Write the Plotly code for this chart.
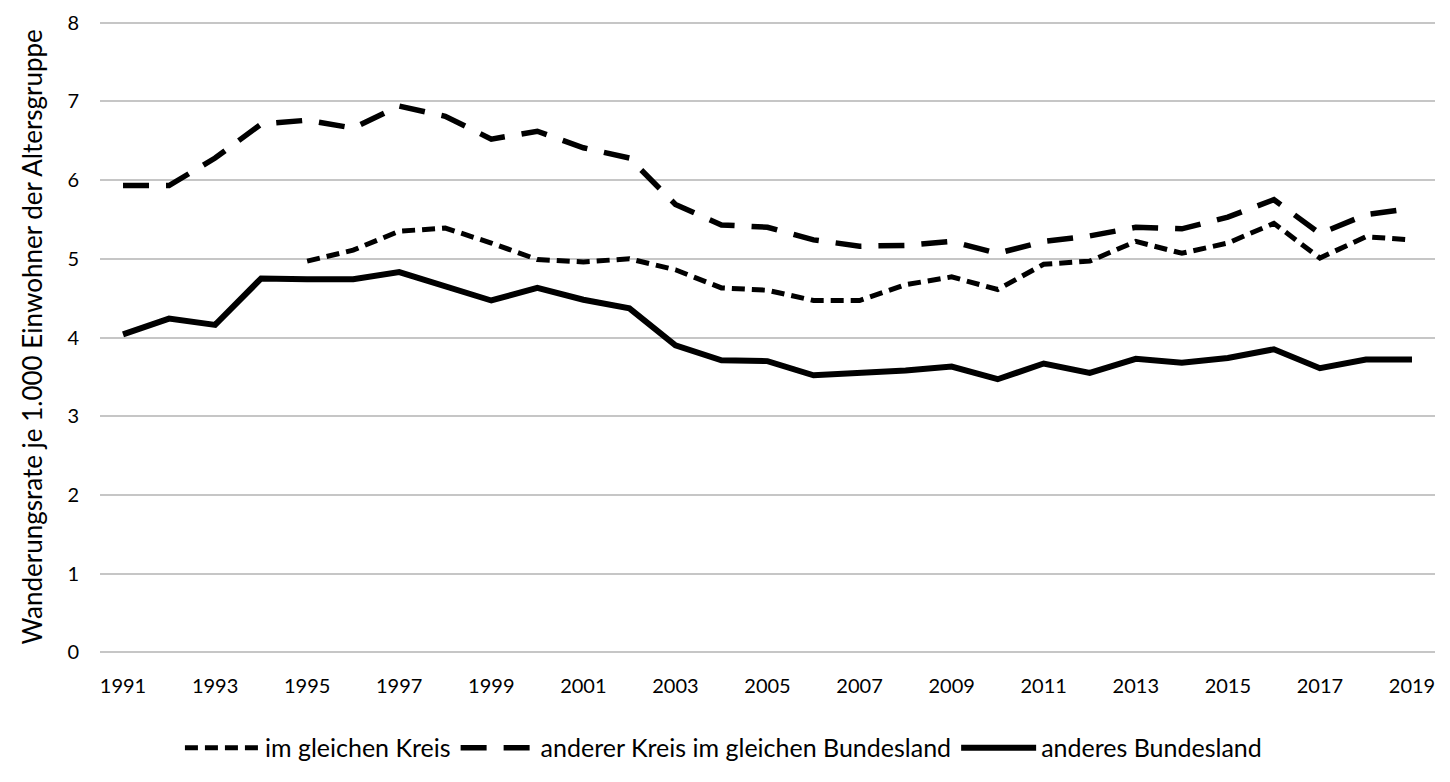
import plotly.graph_objects as go

years = list(range(1991, 2020))

# im gleichen Kreis (starts 1995)
gleicher_kreis = [None, None, None, None,
                  4.97, 5.11, 5.35, 5.39, 5.20, 4.99, 4.96, 5.00, 4.86, 4.63, 4.60,
                  4.47, 4.47, 4.67, 4.77, 4.61, 4.93, 4.97, 5.22, 5.07, 5.20, 5.45,
                  5.01, 5.28, 5.24]

# anderer Kreis im gleichen Bundesland
anderer_kreis = [5.93, 5.93, 6.28, 6.71, 6.76, 6.66, 6.94, 6.81, 6.52, 6.62,
                 6.41, 6.28, 5.69, 5.43, 5.40, 5.24, 5.16, 5.17, 5.22, 5.07,
                 5.22, 5.29, 5.40, 5.38, 5.53, 5.75, 5.32, 5.56, 5.64]

# anderes Bundesland
anderes_land = [4.04, 4.24, 4.16, 4.75, 4.74, 4.74, 4.83, 4.64, 4.47, 4.63,
                4.48, 4.37, 3.90, 3.71, 3.70, 3.52, 3.55, 3.58, 3.63, 3.47,
                3.67, 3.55, 3.73, 3.68, 3.74, 3.85, 3.61, 3.72, 3.72]

names = ["im gleichen Kreis", "anderer Kreis im gleichen Bundesland", "anderes Bundesland"]
y_title = "Wanderungsrate je 1.000 Einwohner der Altersgruppe"
x_ticks = list(range(1991, 2020, 2))
y_ticks = list(range(0, 9))

FONT = "Lato"

fig = go.Figure()
fig.add_trace(go.Scatter(x=years, y=gleicher_kreis, mode="lines", name=names[0],
                         line=dict(color="black", width=5, dash="13px,7px")))
fig.add_trace(go.Scatter(x=years, y=anderer_kreis, mode="lines", name=names[1],
                         line=dict(color="black", width=5.5, dash="26px,17px")))
fig.add_trace(go.Scatter(x=years, y=anderes_land, mode="lines", name=names[2],
                         line=dict(color="black", width=6)))

fig.update_layout(
    width=1450, height=782,
    paper_bgcolor="white", plot_bgcolor="white",
    margin=dict(l=92, r=23, t=13, b=136, autoexpand=False),
    font=dict(family=FONT, color="black", size=20),
    showlegend=True,
    legend=dict(orientation="h", xref="container", x=0.4934, xanchor="center",
                y=-0.112, yanchor="top",
                font=dict(size=25, family=FONT), itemwidth=75, tracegroupgap=0,
                traceorder="normal", itemclick=False),
    xaxis=dict(range=[1990.5, 2019.5], tickmode="array", tickvals=x_ticks,
               ticktext=[str(v) for v in x_ticks], showgrid=False, zeroline=False,
               showline=False, ticks="", tickfont=dict(size=20), ticklabelstandoff=18),
    yaxis=dict(range=[-0.02, 8.02], tickmode="array", tickvals=y_ticks,
               showgrid=True, gridcolor="#c6c6c6", gridwidth=1.5, zeroline=False,
               showline=False, ticks="", tickfont=dict(size=20), ticklabelstandoff=20),
    annotations=[dict(text=y_title, xref="paper", yref="paper", x=0, y=0.5,
                      xanchor="center", yanchor="middle", xshift=-69, textangle=-90,
                      showarrow=False, font=dict(size=26, family=FONT, color="black"))],
)

fig.write_html("out.html")
